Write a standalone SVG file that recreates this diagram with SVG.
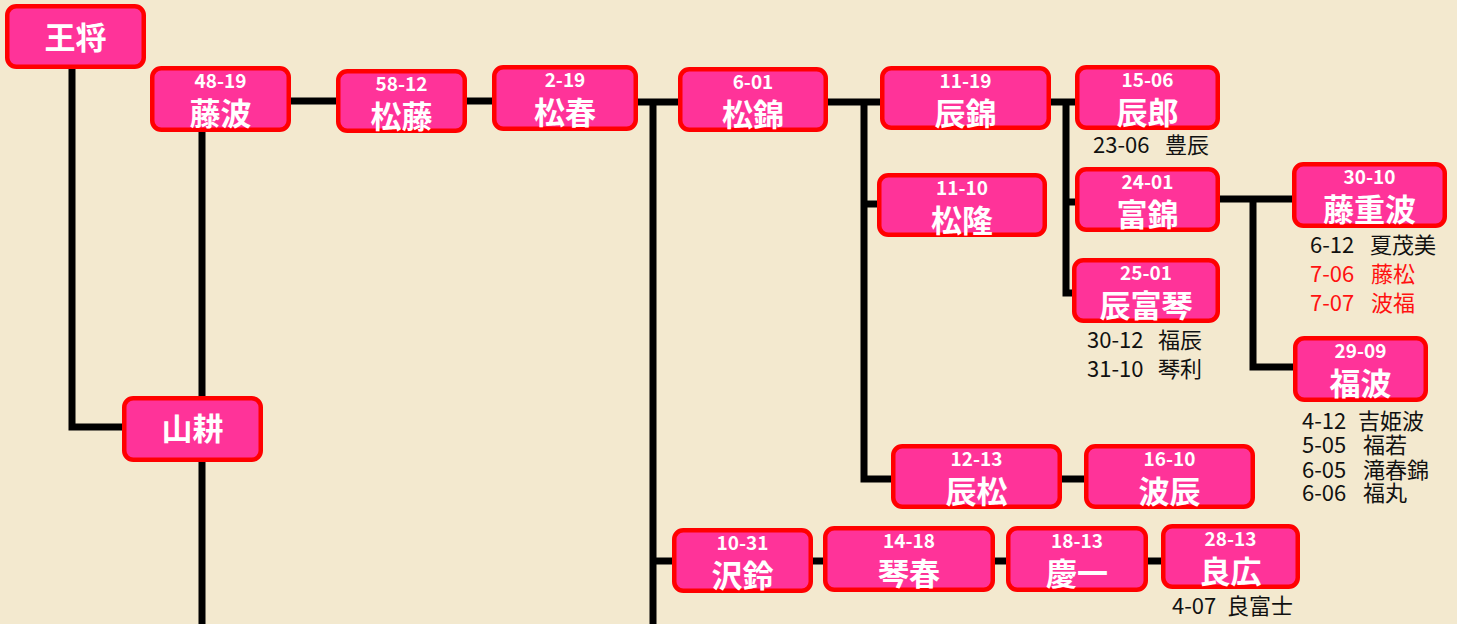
<svg xmlns="http://www.w3.org/2000/svg" width="1457" height="624" viewBox="0 0 1457 624">
<style>
.bg{fill:#F3E9CF}
.box{fill:#FF3399;stroke:#FF0000;stroke-width:4.5}
.num{font-family:"Noto Sans CJK JP","Noto Sans",sans-serif;font-weight:bold;font-size:19px;fill:#fff;text-anchor:middle}
.nm{font-family:"Noto Sans CJK JP",sans-serif;font-weight:bold;font-size:31px;fill:#fff;text-anchor:middle}
.ann{font-family:"Noto Sans CJK JP","Noto Sans",sans-serif;font-size:22px;fill:#111}
.red{fill:#FF1111}
.ln{fill:none;stroke:#000;stroke-width:7;stroke-linejoin:miter;stroke-linecap:butt}
</style>
<rect class="bg" x="0" y="0" width="1457" height="624"/>
<g id="connectors">
<path class="ln" d="M72,69 V427 H122"/>
<path class="ln" d="M202,132 V624"/>
<path class="ln" d="M291,101 H336"/>
<path class="ln" d="M467,101 H492"/>
<path class="ln" d="M638,102 H678"/>
<path class="ln" d="M653,102 V624"/>
<path class="ln" d="M653,561 H672"/>
<path class="ln" d="M813,561 H823"/>
<path class="ln" d="M995,561 H1006"/>
<path class="ln" d="M1148,561 H1161"/>
<path class="ln" d="M828,102 H880"/>
<path class="ln" d="M864,102 V479 H891"/>
<path class="ln" d="M864,204 H877"/>
<path class="ln" d="M1062,479 H1084"/>
<path class="ln" d="M1051,102 H1075"/>
<path class="ln" d="M1066,102 V293 H1072"/>
<path class="ln" d="M1066,202 H1075"/>
<path class="ln" d="M1220,199 H1292"/>
<path class="ln" d="M1253,199 V367 H1293"/>
</g>
<g id="n-oushou"><rect class="box" x="7.25" y="6.25" width="136.5" height="60.5" rx="9"/><text class="nm" x="75.5" y="49">王将</text></g>
<g id="n-fujinami"><rect class="box" x="152.25" y="68.25" width="136.5" height="61.5" rx="9"/><text class="num" x="220.5" y="88">48-19</text><text class="nm" x="220.5" y="125">藤波</text></g>
<g id="n-shoutou"><rect class="box" x="338.25" y="71.25" width="126.5" height="59.5" rx="9"/><text class="num" x="401.5" y="91">58-12</text><text class="nm" x="401.5" y="128">松藤</text></g>
<g id="n-shoushun"><rect class="box" x="494.25" y="67.25" width="141.5" height="61.5" rx="9"/><text class="num" x="565" y="87">2-19</text><text class="nm" x="565" y="124">松春</text></g>
<g id="n-shoukin"><rect class="box" x="680.25" y="69.25" width="145.5" height="60.5" rx="9"/><text class="num" x="753" y="89">6-01</text><text class="nm" x="753" y="126">松錦</text></g>
<g id="n-shinkin"><rect class="box" x="882.25" y="68.25" width="166.5" height="59.5" rx="9"/><text class="num" x="965.5" y="88">11-19</text><text class="nm" x="965.5" y="125">辰錦</text></g>
<g id="n-shinrou"><rect class="box" x="1077.25" y="67.25" width="140.5" height="60.5" rx="9"/><text class="num" x="1147.5" y="87">15-06</text><text class="nm" x="1147.5" y="124">辰郎</text></g>
<g id="n-shouryuu"><rect class="box" x="879.25" y="175.25" width="165.5" height="59.5" rx="9"/><text class="num" x="962" y="195">11-10</text><text class="nm" x="962" y="232">松隆</text></g>
<g id="n-tomikin"><rect class="box" x="1077.25" y="169.25" width="140.5" height="60.5" rx="9"/><text class="num" x="1147.5" y="189">24-01</text><text class="nm" x="1147.5" y="226">富錦</text></g>
<g id="n-fujishigenami"><rect class="box" x="1294.25" y="164.25" width="150.5" height="61.5" rx="9"/><text class="num" x="1369.5" y="184">30-10</text><text class="nm" x="1369.5" y="221">藤重波</text></g>
<g id="n-shintomikoto"><rect class="box" x="1074.25" y="260.25" width="143.5" height="60.5" rx="9"/><text class="num" x="1146" y="280">25-01</text><text class="nm" x="1146" y="317">辰富琴</text></g>
<g id="n-fukunami"><rect class="box" x="1295.25" y="338.25" width="130.5" height="61.5" rx="9"/><text class="num" x="1360.5" y="358">29-09</text><text class="nm" x="1360.5" y="395">福波</text></g>
<g id="n-sankou"><rect class="box" x="124.25" y="398.25" width="136.5" height="61.5" rx="9"/><text class="nm" x="192.5" y="440">山耕</text></g>
<g id="n-shinshou"><rect class="box" x="893.25" y="446.25" width="166.5" height="60.5" rx="9"/><text class="num" x="976.5" y="466">12-13</text><text class="nm" x="976.5" y="503">辰松</text></g>
<g id="n-namishin"><rect class="box" x="1086.25" y="446.25" width="166.5" height="60.5" rx="9"/><text class="num" x="1169.5" y="466">16-10</text><text class="nm" x="1169.5" y="503">波辰</text></g>
<g id="n-takurei"><rect class="box" x="674.25" y="530.25" width="136.5" height="60.5" rx="9"/><text class="num" x="742.5" y="550">10-31</text><text class="nm" x="742.5" y="587">沢鈴</text></g>
<g id="n-kotoharu"><rect class="box" x="825.25" y="528.25" width="167.5" height="61.5" rx="9"/><text class="num" x="909" y="548">14-18</text><text class="nm" x="909" y="585">琴春</text></g>
<g id="n-keiichi"><rect class="box" x="1008.25" y="528.25" width="137.5" height="61.5" rx="9"/><text class="num" x="1077" y="548">18-13</text><text class="nm" x="1077" y="585">慶一</text></g>
<g id="n-yoshihiro"><rect class="box" x="1163.25" y="526.25" width="134.5" height="60.5" rx="9"/><text class="num" x="1230.5" y="546">28-13</text><text class="nm" x="1230.5" y="583">良広</text></g>
<g id="annotations">
<text class="ann" x="1093" y="153">23-06</text><text class="ann" x="1165" y="153">豊辰</text>
<text class="ann" x="1310" y="253">6-12</text><text class="ann" x="1370" y="253">夏茂美</text>
<text class="ann red" x="1310" y="282">7-06</text><text class="ann red" x="1371" y="282">藤松</text>
<text class="ann red" x="1310" y="311">7-07</text><text class="ann red" x="1371" y="311">波福</text>
<text class="ann" x="1087" y="348">30-12</text><text class="ann" x="1158" y="348">福辰</text>
<text class="ann" x="1087" y="377">31-10</text><text class="ann" x="1158" y="377">琴利</text>
<text class="ann" x="1302" y="429">4-12</text><text class="ann" x="1358" y="429">吉姫波</text>
<text class="ann" x="1302" y="453">5-05</text><text class="ann" x="1363" y="453">福若</text>
<text class="ann" x="1302" y="478">6-05</text><text class="ann" x="1363" y="478">滝春錦</text>
<text class="ann" x="1302" y="501">6-06</text><text class="ann" x="1363" y="501">福丸</text>
<text class="ann" x="1172" y="614">4-07</text><text class="ann" x="1227" y="614">良富士</text>
</g>
</svg>
